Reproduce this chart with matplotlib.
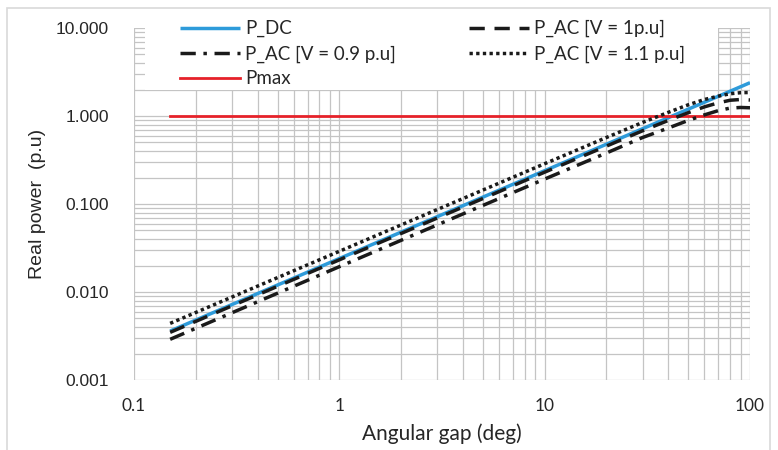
import numpy as np
import matplotlib
matplotlib.use("Agg")
import matplotlib.pyplot as plt
from matplotlib.ticker import FixedLocator, FuncFormatter, LogLocator, NullFormatter
from matplotlib.patches import Rectangle

plt.rcParams['font.family'] = ['Liberation Sans', 'DejaVu Sans']
plt.rcParams['lines.scale_dashes'] = False

# angular gap (deg) and real power (p.u)
angle = [0.15, 1, 10, 20, 30, 40, 50, 60, 70, 80, 90, 100]
p_dc = [0.0036, 0.024, 0.239, 0.478, 0.717, 0.956, 1.195, 1.434, 1.673, 1.912, 2.151, 2.39]
p_ac_10 = [0.00348, 0.0232, 0.230, 0.455, 0.68, 0.89, 1.09, 1.27, 1.41, 1.51, 1.54, 1.52]
p_ac_09 = [0.0029, 0.0194, 0.192, 0.38, 0.57, 0.73, 0.89, 1.03, 1.15, 1.23, 1.25, 1.24]
p_ac_11 = [0.0044, 0.029, 0.287, 0.57, 0.845, 1.10, 1.34, 1.54, 1.68, 1.79, 1.84, 1.85]
p_max = [1.0] * len(angle)

labels = ["P_DC", "P_AC [V = 1p.u]", "P_AC [V = 0.9 p.u]", "P_AC [V = 1.1 p.u]", "Pmax"]

W, H = 778, 450
fig = plt.figure(figsize=(W / 100, H / 100), dpi=100)
# chart area border
fig.patches.append(Rectangle((7 / W, -0.05), 763 / W, 1.05 - 8 / H, transform=fig.transFigure,
                             fill=False, edgecolor="#D9D9D9", linewidth=1.2))
ax = fig.add_axes([134 / W, 1 - 380 / H, 616 / W, 352 / H])

ax.set_xscale("log")
ax.set_yscale("log")
ax.set_xlim(0.1, 100)
ax.set_ylim(0.001, 10)

lw = 2.5
l_dc, = ax.plot(angle, p_dc, color="#2E9BDA", lw=lw, solid_capstyle="butt", zorder=3)
l_10, = ax.plot(angle, p_ac_10, color="#1A1A1A", lw=lw, dashes=(11, 7), dash_capstyle="butt", zorder=4)
l_09, = ax.plot(angle, p_ac_09, color="#1A1A1A", lw=lw, dashes=(11, 5.5, 2.5, 5.5), dash_capstyle="butt", zorder=4)
l_11, = ax.plot(angle, p_ac_11, color="#1A1A1A", lw=lw, dashes=(2.4, 2.4), dash_capstyle="butt", zorder=4)
l_max, = ax.plot(angle, p_max, color="#E62129", lw=2.0, zorder=3)

ax.xaxis.set_major_locator(FixedLocator([0.1, 1, 10, 100]))
ax.yaxis.set_major_locator(FixedLocator([0.001, 0.01, 0.1, 1, 10]))
ax.xaxis.set_minor_locator(LogLocator(base=10, subs=np.arange(2, 10)))
ax.yaxis.set_minor_locator(LogLocator(base=10, subs=np.arange(2, 10)))
ax.xaxis.set_minor_formatter(NullFormatter())
ax.yaxis.set_minor_formatter(NullFormatter())
ax.xaxis.set_major_formatter(FuncFormatter(lambda v, p: f"{v:g}"))
ax.yaxis.set_major_formatter(FuncFormatter(lambda v, p: f"{v:.3f}"))
ax.grid(True, which="both", color="#C4C4C4", lw=0.9)
ax.set_axisbelow(True)
ax.tick_params(which="both", length=0)
ax.tick_params(axis="x", pad=13, labelsize=12.5, labelcolor="#262626")
ax.tick_params(axis="y", pad=18, labelsize=12.5, labelcolor="#262626")
for t in ax.get_xticklabels():
    t.set_family(["Lato", "DejaVu Sans"])
for s in ax.spines.values():
    s.set_visible(False)

ax.set_xlabel("Angular gap (deg)", fontsize=15, color="#262626", labelpad=7,
              family=["Lato", "DejaVu Sans"])
ax.set_ylabel("Real power  (p.u)", fontsize=14, color="#262626", labelpad=7)

# white legend area covering the grid
ax.add_patch(Rectangle((145 / W, 1 - 90 / H), 573 / W, 63 / H, transform=fig.transFigure,
                       facecolor="white", edgecolor="none", zorder=5))

leg = ax.legend([l_dc, l_09, l_max, l_10, l_11],
                [labels[0], labels[2], labels[4], labels[1], labels[3]],
                ncol=2, loc="upper left", bbox_to_anchor=(180 / W, 1 - 20 / H),
                bbox_transform=fig.transFigure, frameon=False,
                prop={"family": ["Lato", "DejaVu Sans"], "size": 13.5},
                handlelength=3.2, handletextpad=0.28, columnspacing=3.9,
                labelspacing=0.42, borderpad=0, borderaxespad=0)
leg.set_zorder(10)
for t in leg.get_texts():
    t.set_color("#262626")

fig.savefig("out.png", dpi=100)
